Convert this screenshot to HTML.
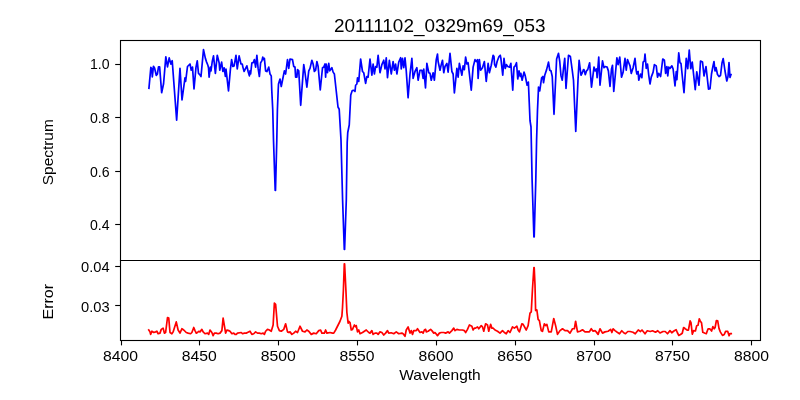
<!DOCTYPE html>
<html><head><meta charset="utf-8"><style>
html,body{margin:0;padding:0;background:#fff;}
svg{display:block;will-change:transform;}
</style></head><body>
<svg width="800" height="400" viewBox="0 0 800 400">
<rect width="800" height="400" fill="#fff"/>
<g stroke="#000" stroke-width="1.11" fill="none" stroke-linecap="square"><rect x="120.5" y="40.5" width="640" height="300"/><line x1="120.5" y1="260.5" x2="760.5" y2="260.5"/></g><g stroke="#000" stroke-width="1.11"><line x1="121.5" y1="340.5" x2="121.5" y2="345.4"/><line x1="199.5" y1="340.5" x2="199.5" y2="345.4"/><line x1="278.5" y1="340.5" x2="278.5" y2="345.4"/><line x1="357.5" y1="340.5" x2="357.5" y2="345.4"/><line x1="436.5" y1="340.5" x2="436.5" y2="345.4"/><line x1="515.5" y1="340.5" x2="515.5" y2="345.4"/><line x1="594.5" y1="340.5" x2="594.5" y2="345.4"/><line x1="672.5" y1="340.5" x2="672.5" y2="345.4"/><line x1="751.5" y1="340.5" x2="751.5" y2="345.4"/><line x1="115.2" y1="64.5" x2="120.5" y2="64.5"/><line x1="115.2" y1="117.5" x2="120.5" y2="117.5"/><line x1="115.2" y1="171.5" x2="120.5" y2="171.5"/><line x1="115.2" y1="224.5" x2="120.5" y2="224.5"/><line x1="115.2" y1="266.5" x2="120.5" y2="266.5"/><line x1="115.2" y1="305.5" x2="120.5" y2="305.5"/></g><path d="M148.94 88.25L150.85 67.44L151.75 68.56L152.31 77.00L153.44 66.31L154.56 68.00L156.25 75.31L157.37 74.19L158.50 66.87L159.62 66.87L161.65 92.75L163.56 83.75L165.81 56.75L167.50 66.87L169.19 57.87L170.87 64.06L172.22 60.69L176.65 120.25L180.00 68.38L182.00 100.00L185.00 77.75L185.62 81.50L187.50 66.50L190.00 64.00L191.25 70.25L192.50 67.12L194.00 89.00L196.00 67.12L197.25 60.88L198.50 73.38L199.75 74.62L201.00 76.50L203.50 49.62L205.38 58.38L206.62 62.12L207.88 65.25L208.50 67.75L209.12 77.12L210.38 67.12L211.00 70.88L212.25 61.50L213.50 55.88L215.38 73.38L217.25 55.25L219.12 62.75L219.75 70.25L221.62 62.12L222.88 71.50L224.12 67.75L225.38 76.50L226.00 69.00L228.50 90.88L230.38 69.62L231.62 59.62L232.88 66.50L234.12 65.88L236.00 55.25L237.25 69.00L239.12 55.88L241.00 64.00L242.25 64.00L242.88 67.12L244.12 71.50L245.00 69.62L246.88 65.88L248.12 71.50L249.38 75.88L250.00 70.88L250.62 74.00L251.88 62.75L253.12 62.75L254.38 59.62L255.62 67.12L256.88 55.25L258.12 68.38L259.38 76.50L260.62 62.75L261.88 60.88L262.75 57.12L263.75 59.62L264.38 58.38L265.62 70.88L266.88 71.50L267.50 70.25L268.75 67.12L270.00 74.00L271.25 75.88L271.75 90.00L272.75 110.00L273.50 140.00L275.20 190.50L275.50 190.50L276.80 140.00L277.40 110.00L278.20 90.00L278.50 84.00L280.00 79.00L281.25 86.50L282.50 80.25L284.38 70.88L285.62 74.00L287.50 59.62L288.75 68.38L290.00 59.00L292.50 59.62L293.75 66.50L295.00 67.12L295.62 77.12L296.88 77.12L297.50 69.62L298.75 70.88L300.70 105.30L303.75 64.62L305.00 72.75L306.88 87.12L308.75 70.88L310.00 68.38L311.88 60.25L313.12 64.00L314.38 71.50L315.62 70.25L316.88 61.50L318.12 66.50L320.25 90.00L322.50 67.75L323.75 67.12L325.00 64.00L325.62 77.12L326.25 64.00L327.50 72.75L328.75 63.38L329.75 70.88L330.62 69.62L331.88 67.75L333.12 72.12L334.38 74.00L338.00 107.00L339.20 109.25L341.00 140.00L342.60 200.00L344.30 249.50L344.60 249.50L346.30 200.00L347.20 142.50L347.75 132.50L349.25 125.00L350.75 95.00L352.25 90.50L353.75 90.25L355.00 91.50L355.62 85.25L356.88 84.00L357.50 77.75L358.75 81.50L360.62 59.00L362.50 71.50L363.75 72.75L365.62 83.38L366.88 76.50L368.12 77.12L370.00 59.00L371.88 75.25L373.12 64.00L374.38 74.00L375.62 66.50L376.88 67.12L378.12 55.25L380.00 72.75L381.88 64.62L383.75 60.25L385.00 69.00L386.25 57.75L387.50 77.75L389.38 60.25L391.25 74.00L393.12 61.50L394.38 70.25L395.62 64.00L396.88 74.00L398.75 62.12L400.62 57.75L401.25 69.00L402.50 58.38L403.75 67.75L405.00 57.75L406.25 70.88L408.10 97.80L410.00 74.00L411.88 58.38L413.12 78.38L415.00 71.50L416.88 67.75L418.12 80.25L420.00 70.25L421.88 70.25L423.12 78.38L423.75 69.00L425.50 88.00L426.88 63.38L428.75 72.75L430.00 73.38L431.25 80.25L433.12 72.75L434.38 80.25L436.25 59.62L437.50 54.00L438.12 61.50L440.00 70.25L441.25 64.62L442.50 60.25L443.75 72.75L445.00 66.50L446.88 63.38L448.12 72.12L450.00 53.38L451.88 71.50L453.12 74.00L454.38 93.00L456.88 68.38L458.12 77.12L459.38 63.38L461.88 75.25L463.12 65.88L464.38 69.62L465.62 57.12L466.88 64.00L468.12 62.75L471.25 90.25L473.12 67.12L475.00 59.62L476.25 61.50L477.50 59.62L478.12 78.38L479.38 59.62L480.62 70.25L482.50 67.75L484.38 61.50L486.25 81.50L488.12 63.38L489.38 72.75L491.25 65.25L493.12 55.25L494.00 56.50L494.62 64.62L495.88 67.12L497.12 61.50L499.00 56.50L500.25 55.25L500.88 58.38L502.75 75.25L504.00 58.38L505.25 68.38L506.50 64.62L507.75 66.50L509.62 67.12L510.88 63.38L512.75 90.25L514.00 67.12L515.25 65.88L516.50 62.75L517.75 79.00L519.00 70.88L520.25 76.50L520.88 73.38L522.12 80.25L524.00 72.12L525.25 75.88L527.12 85.25L528.38 82.12L529.25 102.50L530.00 120.50L531.00 127.00L532.10 180.00L533.90 237.00L534.20 237.00L535.80 180.00L536.60 140.00L537.50 110.00L538.25 93.50L538.50 87.12L539.75 90.88L541.62 77.75L542.88 76.50L543.50 82.75L544.75 75.25L546.62 69.62L548.50 62.12L549.75 70.25L551.00 70.88L552.25 76.50L554.00 114.30L556.62 59.00L558.50 53.38L559.75 61.50L561.00 75.88L562.25 80.25L563.50 68.38L564.75 58.38L566.00 88.38L568.50 55.25L570.38 56.50L572.25 70.25L573.50 80.25L575.75 131.50L578.00 80.00L579.12 60.25L581.00 75.25L582.25 72.75L583.50 69.62L584.00 69.62L585.25 74.62L586.50 70.88L587.75 69.62L589.62 62.75L591.50 87.12L594.00 67.12L595.25 70.88L596.50 69.00L597.12 77.75L598.75 57.12L600.00 85.25L602.50 60.88L604.00 67.75L605.25 66.50L607.12 67.12L608.38 70.88L610.00 86.50L611.50 69.00L612.50 65.25L613.75 91.50L615.50 72.75L616.88 57.75L618.12 64.62L619.75 57.12L621.50 77.12L623.12 72.12L625.00 58.38L626.25 70.25L627.50 59.62L628.75 62.75L630.00 65.88L631.25 73.38L633.12 67.75L635.00 58.38L636.25 70.88L636.88 74.00L638.12 71.50L638.75 80.25L640.62 74.00L641.88 77.75L643.12 62.12L644.38 60.88L645.00 54.00L646.25 68.38L647.50 64.00L648.75 75.25L650.00 84.00L651.25 77.12L653.12 72.12L654.38 64.62L656.25 65.88L657.50 77.12L658.75 73.38L660.62 76.50L662.75 59.00L664.38 60.25L665.62 73.38L666.88 66.50L667.75 75.88L668.75 67.12L670.00 68.38L671.88 65.88L673.12 69.00L675.00 85.88L676.25 71.50L676.88 79.62L678.75 52.75L680.00 62.75L681.00 63.50L684.00 92.75L686.25 58.25L687.75 68.75L689.25 50.00L690.75 68.75L692.25 62.00L695.25 89.75L696.75 71.75L699.00 85.25L700.50 61.00L702.50 62.00L704.00 76.00L706.00 66.50L708.50 89.20L710.00 88.80L711.50 74.00L713.00 66.00L714.00 61.50L715.00 71.00L716.00 67.50L717.50 74.50L719.00 76.50L720.50 75.50L722.00 63.00L723.20 58.50L725.00 71.00L726.80 81.00L728.00 76.50L729.00 62.50L730.00 77.50L731.00 74.50" stroke="#0000ff" stroke-width="1.7" fill="none" stroke-linejoin="round" stroke-linecap="square"/><path d="M148.75 330.00L150.00 331.88L150.62 334.38L151.88 331.25L153.75 332.50L155.62 331.88L156.88 331.25L158.12 333.75L160.00 333.12L161.25 329.38L163.12 328.12L164.38 333.12L165.62 332.50L167.50 317.50L168.75 318.12L170.00 332.50L171.88 333.75L173.12 331.88L176.25 321.88L178.12 330.00L180.00 333.12L181.88 328.75L183.75 330.00L186.25 332.50L188.12 333.12L190.62 333.75L191.88 332.50L193.75 327.50L195.00 330.62L196.25 333.12L197.50 332.50L198.75 331.25L200.00 331.88L201.88 329.38L203.12 331.88L205.00 333.75L207.50 333.12L208.75 334.38L210.00 330.00L211.88 332.50L213.12 335.62L214.38 333.12L216.25 333.12L218.12 333.75L220.00 333.12L221.88 330.62L223.12 318.12L225.62 333.12L226.88 330.00L228.75 330.62L230.00 331.25L231.88 333.75L233.75 333.12L235.00 334.38L236.25 334.38L237.50 333.12L241.25 332.50L242.50 333.75L244.38 333.12L246.25 333.12L247.50 332.50L250.00 331.25L251.88 334.38L253.75 333.75L255.62 331.88L257.50 333.12L259.38 333.12L261.25 333.75L263.12 333.12L264.38 334.38L265.62 331.25L267.50 329.38L269.38 330.00L271.25 331.25L273.12 325.00L274.38 303.12L275.62 304.38L277.50 326.25L279.38 330.62L281.25 331.25L283.75 329.38L285.62 323.75L287.50 331.88L288.75 332.50L290.00 331.88L291.88 334.38L293.75 333.12L295.62 331.25L297.50 332.50L300.00 326.25L302.50 331.25L305.00 331.88L306.88 330.00L308.75 331.25L311.25 334.38L313.75 333.12L316.25 333.75L318.75 330.62L320.62 330.00L321.88 333.12L324.38 333.12L325.62 330.00L326.88 333.12L330.00 332.50L332.50 333.12L333.75 333.12L335.62 330.00L338.75 323.75L340.00 321.25L341.88 316.25L342.50 307.50L343.40 290.00L344.30 263.80L344.60 263.80L345.90 290.00L346.88 312.50L348.12 323.12L348.75 321.25L350.00 322.50L351.25 330.00L352.50 329.38L354.38 325.00L355.62 326.88L356.25 325.62L357.50 331.88L358.75 330.00L360.00 333.75L362.50 332.50L366.25 330.00L368.75 332.50L370.00 333.12L371.88 330.62L373.12 334.38L375.00 333.12L376.88 333.12L378.12 334.38L380.00 331.88L381.88 332.50L383.75 335.00L385.62 333.12L387.50 330.62L388.75 333.12L391.25 332.75L393.75 333.75L396.25 331.88L398.75 333.75L401.88 333.12L403.12 333.75L405.00 336.25L406.25 330.00L408.12 326.88L410.00 333.12L411.25 330.62L412.50 334.38L413.75 330.62L416.25 330.62L417.50 328.75L420.00 332.50L421.88 331.88L423.12 333.12L424.38 330.00L425.62 329.38L426.25 331.88L428.12 331.25L430.62 329.38L431.88 330.62L433.75 333.12L435.00 332.50L437.50 335.62L439.38 333.12L441.25 332.50L443.75 332.50L445.62 333.12L448.12 331.88L449.38 333.12L451.88 330.62L453.75 328.12L455.00 330.62L456.88 329.38L459.38 330.00L462.50 330.00L464.38 330.62L465.62 332.50L467.50 329.38L469.38 325.00L471.88 326.25L473.12 330.00L474.38 328.12L475.62 328.12L477.50 326.88L478.75 328.75L481.25 325.62L482.50 326.88L483.75 331.25L485.62 323.75L487.50 325.00L488.75 331.25L490.62 324.38L491.88 328.12L493.12 328.12L495.00 330.00L497.50 331.25L500.00 333.12L502.50 330.62L504.38 332.50L506.25 333.75L508.12 330.62L510.00 332.50L512.50 326.88L514.38 328.12L516.88 326.25L518.12 330.00L519.38 331.88L521.88 323.75L523.12 324.38L526.25 330.00L528.12 325.62L530.00 313.12L531.25 311.88L532.50 288.75L533.90 267.50L534.20 267.50L535.00 285.00L535.60 310.60L536.88 310.00L538.12 319.38L539.38 320.62L541.25 330.62L542.50 331.25L544.38 323.75L545.62 325.62L546.88 324.38L548.75 331.88L551.25 331.88L553.75 318.50L555.62 325.62L557.50 334.38L560.00 330.62L562.50 328.75L565.00 330.62L567.50 330.62L570.00 333.12L572.50 328.75L574.38 328.75L575.62 321.25L577.50 331.88L580.00 331.25L582.50 329.75L585.00 331.88L589.38 331.88L591.25 328.75L593.12 331.25L595.00 330.62L596.25 331.88L598.12 334.38L600.00 328.75L602.50 333.12L605.00 331.88L608.12 331.25L610.62 329.38L611.88 332.50L613.12 328.75L615.00 330.62L617.25 332.25L619.50 333.75L621.75 330.75L624.00 333.00L625.50 333.75L627.75 331.50L630.00 331.50L633.00 332.25L635.25 333.75L638.25 330.00L640.50 331.50L642.00 330.00L645.00 333.75L647.25 330.75L650.25 331.50L652.50 330.75L655.50 332.25L657.75 330.75L660.00 333.00L663.00 331.50L665.25 331.50L667.50 333.75L670.00 330.60L671.75 332.75L673.90 331.00L676.10 329.70L677.40 332.75L678.75 335.40L680.50 334.50L682.25 333.20L683.60 327.50L685.30 328.80L687.10 330.10L688.40 330.10L689.25 325.75L690.10 320.90L691.00 322.70L692.30 334.10L693.60 330.60L695.40 331.00L696.70 325.75L698.00 325.30L699.30 318.75L700.20 320.90L701.50 322.70L702.80 332.30L705.00 333.20L706.30 333.60L708.10 328.80L709.80 328.80L711.60 331.00L712.90 326.60L714.20 328.80L715.10 327.50L716.40 320.50L717.70 320.90L719.00 328.40L720.30 331.90L722.50 335.40L724.25 334.50L725.60 331.40L727.75 331.40L729.10 335.80L729.90 333.60L731.25 333.60" stroke="#ff0000" stroke-width="1.7" fill="none" stroke-linejoin="round" stroke-linecap="square"/><g font-family='"Liberation Sans", sans-serif' fill="#000"><text x="439.7" y="31.7" font-size="17.7" text-anchor="middle" textLength="211.5" lengthAdjust="spacingAndGlyphs" >20111102_0329m69_053</text><text x="109.6" y="69.3" font-size="14.1" text-anchor="end" textLength="19.6" lengthAdjust="spacingAndGlyphs" >1.0</text><text x="109.6" y="123.3" font-size="14.1" text-anchor="end" textLength="19.6" lengthAdjust="spacingAndGlyphs" >0.8</text><text x="109.6" y="176.5" font-size="14.1" text-anchor="end" textLength="19.6" lengthAdjust="spacingAndGlyphs" >0.6</text><text x="109.6" y="230.3" font-size="14.1" text-anchor="end" textLength="19.6" lengthAdjust="spacingAndGlyphs" >0.4</text><text x="109.6" y="271.6" font-size="14.1" text-anchor="end" textLength="28.6" lengthAdjust="spacingAndGlyphs" >0.04</text><text x="109.6" y="311.5" font-size="14.1" text-anchor="end" textLength="28.6" lengthAdjust="spacingAndGlyphs" >0.03</text><text x="120.50" y="361.0" font-size="14.1" text-anchor="middle" textLength="35" lengthAdjust="spacingAndGlyphs" >8400</text><text x="199.38" y="361.0" font-size="14.1" text-anchor="middle" textLength="35" lengthAdjust="spacingAndGlyphs" >8450</text><text x="278.25" y="361.0" font-size="14.1" text-anchor="middle" textLength="35" lengthAdjust="spacingAndGlyphs" >8500</text><text x="357.12" y="361.0" font-size="14.1" text-anchor="middle" textLength="35" lengthAdjust="spacingAndGlyphs" >8550</text><text x="436.00" y="361.0" font-size="14.1" text-anchor="middle" textLength="35" lengthAdjust="spacingAndGlyphs" >8600</text><text x="514.88" y="361.0" font-size="14.1" text-anchor="middle" textLength="35" lengthAdjust="spacingAndGlyphs" >8650</text><text x="593.75" y="361.0" font-size="14.1" text-anchor="middle" textLength="35" lengthAdjust="spacingAndGlyphs" >8700</text><text x="672.62" y="361.0" font-size="14.1" text-anchor="middle" textLength="35" lengthAdjust="spacingAndGlyphs" >8750</text><text x="751.50" y="361.0" font-size="14.1" text-anchor="middle" textLength="35" lengthAdjust="spacingAndGlyphs" >8800</text><text x="440" y="380" font-size="14.1" text-anchor="middle" textLength="81.5" lengthAdjust="spacingAndGlyphs" >Wavelength</text><text x="0" y="0" font-size="14.1" text-anchor="middle" textLength="65.9" lengthAdjust="spacingAndGlyphs" transform="translate(53.1,152.25) rotate(-90)">Spectrum</text><text x="0" y="0" font-size="14.1" text-anchor="middle" textLength="35.5" lengthAdjust="spacingAndGlyphs" transform="translate(53,301.75) rotate(-90)">Error</text></g>
</svg></body></html>
